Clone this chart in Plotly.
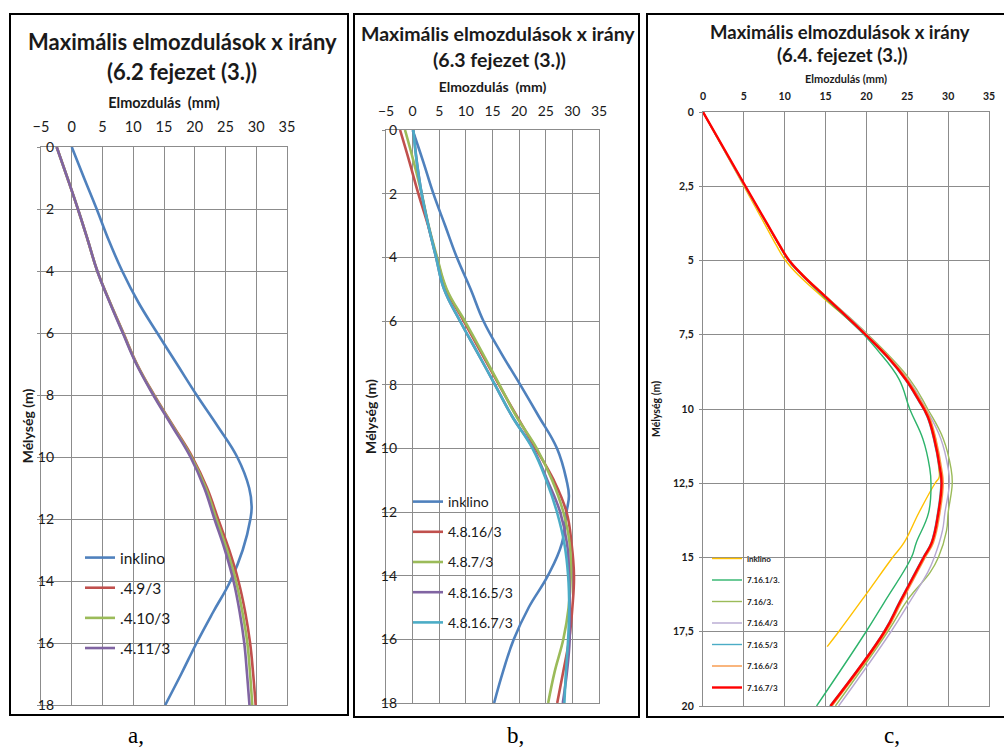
import plotly.graph_objects as go

W, H = 1004, 751

# ---------------- Panel a (6.2 fejezet) ----------------
a_depth = [0, 1, 2, 3, 4, 5, 6, 7, 8, 9, 10, 11, 12, 13, 14, 15, 16, 17, 18]
a_inklino_depth = [0, 1, 2, 3, 4, 5, 6, 7, 8, 9, 10, 11, 11.6, 12, 13, 14, 15, 16, 17, 18]
a_inklino = [0, 2.0, 4.05, 6.0, 8.2, 10.8, 13.9, 17.1, 20.3, 23.7, 26.9, 28.85, 29.25, 29.05,
             27.8, 25.8, 23.0, 20.3, 17.8, 15.2]
a_49 = [-2.45, -0.7, 1.0, 2.6, 4.15, 6.2, 8.4, 10.6, 13.4, 16.5, 19.6, 22.0, 23.8, 25.6, 27.1,
        28.2, 29.0, 29.5, 29.9]
a_410 = [-2.45, -0.7, 1.0, 2.6, 4.15, 6.18, 8.35, 10.55, 13.33, 16.4, 19.45, 21.8, 23.5, 25.25,
         26.7, 27.75, 28.55, 29.0, 29.35]
a_411 = [-2.45, -0.7, 1.0, 2.6, 4.15, 6.15, 8.3, 10.5, 13.25, 16.3, 19.3, 21.55, 23.2, 24.9,
         26.3, 27.3, 28.05, 28.5, 28.9]

# ---------------- Panel b (6.3 fejezet) ----------------
b_depth = [0, 1, 2, 3, 4, 5, 6, 7, 8, 9, 10, 11, 12, 13, 14, 15, 16, 17, 18]
b_inklino_depth = [0, 1, 2, 3, 4, 5, 6, 7, 8, 9, 10, 11, 11.5, 12, 13, 14, 15, 16, 17, 18]
b_inklino = [0, 2.0, 3.9, 6.1, 8.3, 10.9, 13.3, 16.6, 20.2, 23.7, 27.1, 28.9, 29.35, 28.9,
             28.0, 25.4, 21.8, 19.0, 17.0, 15.3]
b_4816 = [-2.36, -0.6, 1.07, 2.9, 4.5, 6.3, 9.6, 12.9, 16.2, 19.6, 23.1, 26.5, 28.9, 29.85,
          30.3, 30.0, 29.4, 28.3, 27.15]
b_487 = [-1.43, 0.2, 1.7, 3.0, 4.6, 6.4, 9.8, 13.1, 16.3, 19.5, 23.3, 26.2, 28.3, 29.5, 29.7,
         29.3, 28.3, 26.7, 25.45]
b_48165 = [0.13, 0.8, 1.7, 2.95, 4.4, 5.9, 8.9, 12.2, 15.45, 18.7, 22.6, 25.3, 27.7, 29.0,
           29.4, 29.5, 29.5, 29.0, 28.2]
b_48167 = [0.13, 0.77, 1.7, 2.95, 4.4, 5.9, 8.9, 12.2, 15.45, 18.7, 22.5, 25.1, 27.1, 28.5,
           29.2, 29.4, 29.2, 28.8, 28.5]

# ---------------- Panel c (6.4. fejezet) ----------------
c_inklino_depth = [0, 2.5, 4, 4.5, 5, 5.5, 6.25, 7.5, 9, 10, 11, 12, 12.3, 12.5, 13.5, 14.5,
                   15, 16.3, 17.5, 18]
c_inklino = [0, 5.0, 8.0, 9.0, 10.1, 11.7, 14.7, 19.8, 24.9, 27.1, 28.45, 28.85, 28.9, 28.4,
             26.4, 24.6, 23.2, 19.8, 16.6, 15.2]
c_g_depth = [0, 2.5, 4, 4.5, 5, 5.5, 6.25, 7.5, 8, 9, 10, 11, 12, 12.5, 13.5, 14.5, 15, 16.5,
             17.5, 20]
c_7161 = [0, 5.15, 8.3, 9.35, 10.45, 12.1, 14.9, 19.7, 21.3, 24.0, 25.3, 26.9, 27.75, 27.9,
          27.6, 26.1, 25.5, 22.2, 19.95, 13.9]
c_o_depth = [0, 2.5, 4, 4.5, 5, 5.5, 6.25, 7.5, 9, 10, 11, 12, 12.5, 13.5, 14.1, 15, 15.5,
             16.4, 17.5, 20]
c_716 = [0, 5.1, 8.3, 9.35, 10.5, 12.2, 15.2, 20.2, 25.3, 27.5, 29.4, 30.35, 30.5, 30.0, 29.8,
         28.8, 27.8, 25.1, 22.6, 16.2]
c_7164 = [0, 5.1, 8.3, 9.35, 10.5, 12.2, 15.2, 20.1, 25.1, 27.3, 29.1, 30.0, 30.15, 29.6,
          29.3, 28.3, 27.5, 25.5, 23.0, 16.6]
c_r_depth = [0, 2.5, 4, 4.5, 5, 5.5, 6.25, 7.5, 8.25, 9, 9.7, 10.25, 11, 12, 12.5, 13.5, 14.5,
             15, 16.5, 17.5, 20]
c_7165 = [0, 5.15, 8.3, 9.35, 10.45, 12.1, 15.0, 19.8, 22.5, 24.7, 26.3, 27.4, 28.2, 28.9,
          29.1, 28.7, 27.9, 26.9, 24.0, 22.1, 15.5]
c_7166 = [0, 5.2, 8.35, 9.45, 10.6, 12.3, 15.2, 20.0, 22.75, 25.0, 26.6, 27.7, 28.5, 29.2,
          29.4, 29.0, 28.2, 27.2, 24.3, 22.4, 15.8]
c_7167 = [0, 5.2, 8.35, 9.4, 10.55, 12.2, 15.1, 19.9, 22.6, 24.8, 26.4, 27.5, 28.3, 29.0,
          29.2, 28.8, 28.0, 27.0, 24.1, 22.2, 15.6]

a_xticks = [-5, 0, 5, 10, 15, 20, 25, 30, 35]
c_xticks = [0, 5, 10, 15, 20, 25, 30, 35]
c_yticks = [0, 2.5, 5, 7.5, 10, 12.5, 15, 17.5, 20]
c_yticktext = ["0", "2,5", "5", "7,5", "10", "12,5", "15", "17,5", "20"]


def px(x):
    return x / W


def py(y):
    return 1 - y / H


FONT = "Lato"
TXT = "#1a1a1a"
GRID = "#8c8c8c"

fig = go.Figure()


def add(x, y, name, color, width, n, leg):
    fig.add_trace(go.Scatter(
        x=x, y=y, name=name, mode="lines",
        line=dict(color=color, width=width, shape="spline", smoothing=1.2),
        xaxis="x" if n == 1 else f"x{n}", yaxis="y" if n == 1 else f"y{n}",
        legend=leg, legendgroup=f"{leg}_{name}", hoverinfo="skip"))


# panel a
add(a_inklino, a_inklino_depth, "inklino", "#4F81BD", 2.6, 1, "legend")
add(a_49, a_depth, ".4.9/3", "#C0504D", 2.6, 1, "legend")
add(a_410, a_depth, ".4.10/3", "#9BBB59", 2.6, 1, "legend")
add(a_411, a_depth, ".4.11/3", "#8064A2", 2.6, 1, "legend")

# panel b
add(b_inklino, b_inklino_depth, "inklino", "#4F81BD", 2.6, 2, "legend2")
add(b_4816, b_depth, "4.8.16/3", "#C0504D", 2.6, 2, "legend2")
add(b_487, b_depth, "4.8.7/3", "#9BBB59", 2.6, 2, "legend2")
add(b_48165, b_depth, "4.8.16.5/3", "#8064A2", 2.6, 2, "legend2")
add(b_48167, b_depth, "4.8.16.7/3", "#4BACC6", 2.6, 2, "legend2")

# panel c
add(c_inklino, c_inklino_depth, "inklino", "#FFC000", 1.4, 3, "legend3")
add(c_7161, c_g_depth, "7.16.1/3.", "#2DB36B", 1.4, 3, "legend3")
add(c_716, c_o_depth, "7.16/3.", "#9BBB59", 1.4, 3, "legend3")
add(c_7164, c_o_depth, "7.16.4/3", "#B7A8D1", 1.4, 3, "legend3")
add(c_7165, c_r_depth, "7.16.5/3", "#4BACC6", 1.4, 3, "legend3")
add(c_7166, c_r_depth, "7.16.6/3", "#F79646", 1.4, 3, "legend3")
add(c_7167, c_r_depth, "7.16.7/3", "#FF0000", 2.4, 3, "legend3")


def xax(dom, rng, ticks, anchor, tsize, tweight, lstand, title, titsize, tstand):
    return dict(domain=dom, range=rng, tickmode="array", tickvals=ticks, side="top",
                anchor=anchor, showgrid=True, gridcolor=GRID, gridwidth=1.3,
                showline=True, linecolor=GRID, linewidth=1.3, mirror=True,
                zeroline=False, ticks="", fixedrange=True,
                tickfont=dict(family=FONT, size=tsize, color=TXT, weight=tweight),
                ticklabelstandoff=lstand,
                title=dict(text=title, standoff=tstand,
                           font=dict(family=FONT, size=titsize, color=TXT, weight="bold")))


def yax(dom, rng, tv, tt, anchor, tsize, tweight, lstand, title, titsize, tstand):
    return dict(domain=dom, range=rng, tickmode="array", tickvals=tv, ticktext=tt,
                anchor=anchor, showgrid=True, gridcolor=GRID, gridwidth=1.3,
                showline=True, linecolor=GRID, linewidth=1.3, mirror=True,
                zeroline=False, ticks="outside", ticklen=3, tickcolor=GRID,
                fixedrange=True,
                tickfont=dict(family=FONT, size=tsize, color=TXT, weight=tweight),
                ticklabelstandoff=lstand,
                title=dict(text=title, standoff=tstand,
                           font=dict(family=FONT, size=titsize, color=TXT, weight="bold")))


a_yticks = list(range(0, 19, 2))
layout = dict(
    width=W, height=H, margin=dict(l=0, r=0, t=0, b=0, autoexpand=False),
    paper_bgcolor="white", plot_bgcolor="white",
    xaxis=xax([px(41), px(287)], [-5, 35], a_xticks, "y", 14.5, "normal", 8,
              "Elmozdulás  (mm)", 14.5, 5),
    yaxis=yax([py(705), py(147)], [18, 0], a_yticks, [str(v) for v in a_yticks], "x",
              14, "normal", -20, "Mélység (m)", 14, 0),
    xaxis2=xax([px(386), px(599)], [-5, 35], a_xticks, "y2", 14, "normal", 7,
               "Elmozdulás  (mm)", 14, 6),
    yaxis2=yax([py(703), py(130)], [18, 0], a_yticks, [str(v) for v in a_yticks], "x2",
               14, "normal", -18, "Mélység (m)", 14, 0),
    xaxis3=xax([px(703), px(989)], [0, 35], c_xticks, "y3", 10.5, "bold", 7,
               "Elmozdulás (mm)", 11, 3),
    yaxis3=yax([py(706), py(112)], [20, 0], c_yticks, c_yticktext, "x3",
               10.5, "bold", 3, "Mélység (m)", 10.5, 10),
    legend=dict(x=px(80), y=py(541), xanchor="left", yanchor="top", traceorder="grouped",
                tracegroupgap=7, bgcolor="rgba(0,0,0,0)",
                font=dict(family=FONT, size=15.5, color=TXT)),
    legend2=dict(x=px(408), y=py(486), xanchor="left", yanchor="top", traceorder="grouped",
                 tracegroupgap=9, bgcolor="rgba(0,0,0,0)",
                 font=dict(family=FONT, size=14, color=TXT)),
    legend3=dict(x=px(707), y=py(544), xanchor="left", yanchor="top", traceorder="grouped",
                 tracegroupgap=2.5, bgcolor="rgba(0,0,0,0)",
                 font=dict(family=FONT, size=8, color=TXT, weight="bold")),
    showlegend=True,
)
fig.update_layout(**layout)

# panel frames
for x0, x1, y0, y1 in [(10, 348, 14, 715), (354, 639, 14, 717), (647, 1012, 14, 717)]:
    fig.add_shape(type="rect", xref="paper", yref="paper", x0=px(x0), x1=px(x1),
                  y0=py(y1), y1=py(y0), line=dict(color="black", width=2),
                  fillcolor="rgba(0,0,0,0)", layer="above")

# chart titles and captions
titles = [
    ("Maximális elmozdulások x irány", 182, 42, 22),
    ("(6.2 fejezet (3.))", 182, 71, 22),
    ("Maximális elmozdulások x irány", 498, 33, 19.5),
    ("(6.3 fejezet (3.))", 499, 59, 19.5),
    ("Maximális elmozdulások x irány", 840, 32, 18.5),
    ("(6.4. fejezet (3.))", 842, 55, 18.5),
]
for text, x, y, s in titles:
    fig.add_annotation(text=text, xref="paper", yref="paper", x=px(x), y=py(y),
                       xanchor="center", yanchor="middle", showarrow=False,
                       font=dict(family=FONT, size=s, color=TXT, weight="bold"))

for text, x in [("a,", 136), ("b,", 515), ("c,", 892)]:
    fig.add_annotation(text=text, xref="paper", yref="paper", x=px(x), y=py(735),
                       xanchor="center", yanchor="middle", showarrow=False,
                       font=dict(family="Liberation Serif", size=23, color="black"))

fig.write_html("out.html", config={"displayModeBar": False},
               post_script="document.body.style.margin='0';")
